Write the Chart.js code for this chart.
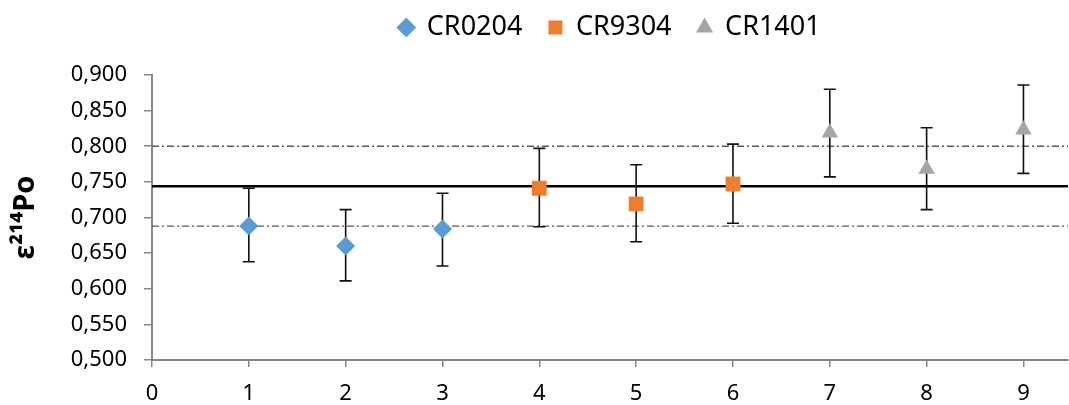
<!DOCTYPE html>
<html>
<head>
<meta charset="utf-8">
<script src="https://cdn.jsdelivr.net/npm/chart.js@4/dist/chart.umd.min.js"></script>
<style>
  html, body { margin: 0; padding: 0; background: #fff; }
  #wrap { width: 1069px; height: 405px; }
</style>
</head>
<body>
<div id="wrap"><canvas id="myChart"></canvas></div>
<script>
// data
const seriesNames = ['CR0204', 'CR9304', 'CR1401'];
const seriesColors = ['#5B9BD5', '#ED7D31', '#A5A5A5'];
const seriesShapes = ['rectRot', 'rect', 'triangle'];

const xCR0204 = [1, 2, 3];
const yCR0204 = [0.688, 0.660, 0.684];
const hiCR0204 = [0.741, 0.711, 0.734];
const loCR0204 = [0.638, 0.611, 0.632];

const xCR9304 = [4, 5, 6];
const yCR9304 = [0.741, 0.719, 0.747];
const hiCR9304 = [0.797, 0.774, 0.803];
const loCR9304 = [0.687, 0.666, 0.692];

const xCR1401 = [7, 8, 9];
const yCR1401 = [0.819, 0.768, 0.823];
const hiCR1401 = [0.880, 0.826, 0.886];
const loCR1401 = [0.757, 0.711, 0.762];

const meanLine = 0.744;
const bandLines = [0.800, 0.688];

const yTicksMin = 0.5;
const yTicksMax = 0.9;
const xTicksMax = 9.46;

const xs = [xCR0204, xCR9304, xCR1401];
const ys = [yCR0204, yCR9304, yCR1401];
const his = [hiCR0204, hiCR9304, hiCR1401];
const los = [loCR0204, loCR9304, loCR1401];

const FONT = '"Noto Sans", "Open Sans", sans-serif';

const datasets = seriesNames.map((name, i) => ({
    label: name,
    data: xs[i].map((x, j) => ({ x, y: ys[i][j], hi: his[i][j], lo: los[i][j] })),
    backgroundColor: seriesColors[i],
    borderColor: seriesColors[i],
    pointStyle: seriesShapes[i],
    pointRadius: seriesShapes[i] === 'rect' ? 10.5 : 9.5,
    pointBorderWidth: 0,
    showLine: false,
}));

// horizontal reference lines + error bars, drawn through the scales
const refLines = {
    id: 'refLines',
    beforeDatasetsDraw(chart) {
        const { ctx, chartArea, scales } = chart;
        ctx.save();
        ctx.strokeStyle = '#000';
        ctx.lineWidth = 2.5;
        let py = scales.y.getPixelForValue(meanLine);
        ctx.beginPath();
        ctx.moveTo(chartArea.left, py);
        ctx.lineTo(chartArea.right, py);
        ctx.stroke();
        ctx.strokeStyle = '#595959';
        ctx.lineWidth = 1.3;
        ctx.setLineDash([7, 3, 2, 3]);
        bandLines.forEach((v) => {
            py = scales.y.getPixelForValue(v);
            ctx.beginPath();
            ctx.moveTo(chartArea.left, py);
            ctx.lineTo(chartArea.right, py);
            ctx.stroke();
        });
        ctx.setLineDash([]);
        // error bars
        ctx.strokeStyle = '#111';
        ctx.lineWidth = 1.6;
        chart.data.datasets.forEach((ds) => {
            ds.data.forEach((p) => {
                const px = scales.x.getPixelForValue(p.x);
                const top = scales.y.getPixelForValue(p.hi);
                const bot = scales.y.getPixelForValue(p.lo);
                ctx.beginPath();
                ctx.moveTo(px, top);
                ctx.lineTo(px, bot);
                ctx.moveTo(px - 6, top);
                ctx.lineTo(px + 6, top);
                ctx.moveTo(px - 6, bot);
                ctx.lineTo(px + 6, bot);
                ctx.stroke();
            });
        });
        ctx.restore();
    }
};

// fixed legend height, row lifted a little and centred over the plot area
const legendTweak = {
    id: 'legendTweak',
    afterInit(chart) {
        const orig = chart.legend.fit;
        chart.legend.fit = function () {
            orig.call(this);
            this.height = 75;
        };
    },
    afterLayout(chart) {
        const lg = chart.legend;
        const shift = (chart.chartArea.left + chart.chartArea.right) / 2 - (lg.left + lg.right) / 2;
        lg.left += shift;
        lg.right += shift;
        lg.top -= 12;
    }
};

const ctx = document.getElementById('myChart').getContext('2d');
const myChart = new Chart(ctx, {
    type: 'scatter',
    data: { datasets },
    plugins: [refLines, legendTweak],
    options: {
        responsive: true,
        maintainAspectRatio: false,
        animation: false,
        layout: { autoPadding: false, padding: { left: 0, right: 1, top: 0, bottom: 0 } },
        plugins: {
            tooltip: { enabled: false },
            legend: {
                position: 'top',
                labels: {
                    usePointStyle: true,
                    boxWidth: 14,
                    boxHeight: 14,
                    color: '#000',
                    font: { family: FONT, size: 27 },
                    padding: 26,
                },
            },
        },
        scales: {
            x: {
                type: 'linear',
                min: 0,
                max: xTicksMax,
                grid: { display: true, drawOnChartArea: false, drawTicks: true, tickLength: 7, color: '#868686', lineWidth: 1.5 },
                border: { color: '#868686', width: 2 },
                ticks: {
                    stepSize: 1,
                    includeBounds: false,
                    color: '#000',
                    font: { family: FONT, size: 22 },
                    padding: 14,
                },
                afterBuildTicks(axis) {
                    axis.ticks = axis.ticks.filter((t) => Number.isInteger(t.value));
                },
                afterFit(axis) { axis.height = 45; },
            },
            y: {
                min: yTicksMin,
                max: yTicksMax,
                grid: { display: true, drawOnChartArea: false, drawTicks: true, tickLength: 8, color: '#868686', lineWidth: 1.5 },
                border: { color: '#868686', width: 2 },
                ticks: {
                    stepSize: 0.05,
                    color: '#000',
                    font: { family: FONT, size: 22 },
                    padding: 17,
                    callback: (v) => v.toFixed(3).replace('.', ','),
                },
                title: {
                    display: true,
                    text: 'ε²¹⁴Po',
                    color: '#000',
                    font: { family: FONT, size: 29, weight: 'bold' },
                    padding: { top: 8, bottom: 0 },
                },
                afterFit(axis) { axis.width = 152; },
            },
        },
    },
});
</script>
</body>
</html>
